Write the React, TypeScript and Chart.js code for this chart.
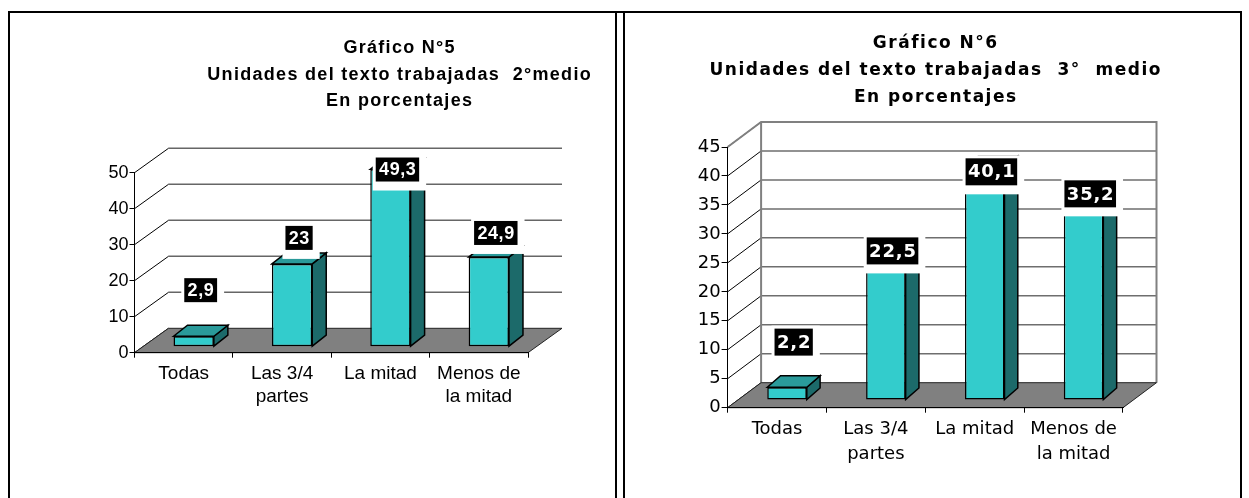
import React, { useEffect, useRef } from 'react';
import { Chart, registerables } from 'chart.js';

Chart.register(...registerables);

// ---------------- data ----------------
const categories: (string | string[])[] = ['Todas', ['Las 3/4', 'partes'], 'La mitad', ['Menos de', 'la mitad']];
const values2medio = [2.9, 23, 49.3, 24.9];
const values3medio = [2.2, 22.5, 40.1, 35.2];
const title2medio = ['Gráfico N°5', 'Unidades del texto trabajadas  2°medio', 'En porcentajes'];
const title3medio = ['Gráfico N°6', 'Unidades del texto trabajadas  3°  medio', 'En porcentajes'];
const yMax2medio = 50;
const yStep2medio = 10;
const yMax3medio = 45;
const yStep3medio = 5;

const fmt = (v: number) => String(v).replace('.', ',');

type Spec = {
  values: number[]; max: number; step: number; title: string[];
  family: string; canvasW: number; canvasH: number;
  pad: { left: number; right: number; top: number; bottom: number };
  yW: number; xH: number;
  depth: [number, number]; shift: [number, number]; barDepth: [number, number];
  wall: boolean; gridColor: string; gridWidth: number;
  yFont: number; yTick: number; yPad: number;
  xFont: number; xLineHeight: number; xTick: number; xPad: number;
  titleX: number; titleBase: number[]; titleSize: number; titleSpacing: number;
  labelSize: number; labelSpacing: number; labelPadX: number; labelH: number; labelK: number; labelC: number;
  barPct: number;
};

const spec1: Spec = {
  values: values2medio, max: yMax2medio, step: yStep2medio, title: title2medio,
  family: "'Liberation Sans', Arial, sans-serif", canvasW: 600, canvasH: 484,
  pad: { left: 72.5, right: 84, top: 158.7, bottom: 65.3 }, yW: 50, xH: 80,
  depth: [34, -24.4], shift: [10, -6], barDepth: [14, -11],
  wall: false, gridColor: '#666666', gridWidth: 1.5,
  yFont: 18, yTick: 5, yPad: 1,
  xFont: 19, xLineHeight: 1.23, xTick: 5, xPad: 4,
  titleX: 387, titleBase: [39.3, 66, 92], titleSize: 18, titleSpacing: 1.3,
  labelSize: 18, labelSpacing: 0.6, labelPadX: 3, labelH: 24, labelK: 49, labelC: 1.0,
  barPct: 0.41,
};

const spec2: Spec = {
  values: values3medio, max: yMax3medio, step: yStep3medio, title: title3medio,
  family: "'DejaVu Sans', Verdana, sans-serif", canvasW: 612, canvasH: 484,
  pad: { left: 50.6, right: 116, top: 133, bottom: 20.3 }, yW: 50, xH: 70,
  depth: [33.5, -25], shift: [10, -7.7], barDepth: [13.3, -11.5],
  wall: true, gridColor: '#6e6e6e', gridWidth: 1.5,
  yFont: 18, yTick: 6, yPad: 1,
  xFont: 18, xLineHeight: 1.39, xTick: 5, xPad: 4,
  titleX: 308, titleBase: [34, 61, 87.7], titleSize: 17, titleSpacing: 1.5,
  labelSize: 18, labelSpacing: 0.8, labelPadX: 2, labelH: 27, labelK: 48, labelC: 1.3,
  barPct: 0.4,
};

function makePlugin(spec: Spec) {
  return {
    id: 'threeD',
    beforeDraw(chart: any) {
      const { ctx, chartArea: a } = chart;
      const y = chart.scales.y;
      const [dx, dy] = spec.depth;
      ctx.save();
      ctx.lineWidth = spec.gridWidth;
      ctx.strokeStyle = spec.gridColor;
      for (let v = spec.step; v <= spec.max + 1e-9; v += spec.step) {
        const py = y.getPixelForValue(v) + dy;
        ctx.beginPath();
        ctx.moveTo(a.left + dx, py);
        ctx.lineTo(a.right + dx, py);
        ctx.stroke();
      }
      ctx.lineWidth = 1;
      ctx.strokeStyle = '#000';
      for (let v = 0; v <= spec.max + 1e-9; v += spec.step) {
        const py = y.getPixelForValue(v);
        ctx.beginPath();
        ctx.moveTo(a.left, py);
        ctx.lineTo(a.left + dx, py + dy);
        ctx.stroke();
      }
      if (spec.wall) {
        ctx.lineWidth = 2;
        ctx.strokeStyle = '#808080';
        ctx.beginPath();
        ctx.moveTo(a.left, a.top);
        ctx.lineTo(a.left + dx, a.top + dy);
        ctx.lineTo(a.right + dx, a.top + dy);
        ctx.lineTo(a.right + dx, a.bottom + dy);
        ctx.moveTo(a.left + dx, a.top + dy);
        ctx.lineTo(a.left + dx, a.bottom + dy);
        ctx.stroke();
      }
      ctx.fillStyle = '#808080';
      ctx.beginPath();
      ctx.moveTo(a.left, a.bottom);
      ctx.lineTo(a.right, a.bottom);
      ctx.lineTo(a.right + dx, a.bottom + dy);
      ctx.lineTo(a.left + dx, a.bottom + dy);
      ctx.closePath();
      ctx.fill();
      ctx.lineWidth = 1;
      ctx.strokeStyle = '#222';
      ctx.stroke();
      ctx.restore();
    },
    beforeDatasetDraw(chart: any) {
      chart.ctx.save();
      chart.ctx.translate(spec.shift[0], spec.shift[1]);
    },
    afterDatasetDraw(chart: any, args: any) {
      const ctx = chart.ctx;
      const [bx, by] = spec.barDepth;
      args.meta.data.forEach((el: any) => {
        const { x, y, base, width } = el.getProps(['x', 'y', 'base', 'width'], true);
        const l = x - width / 2;
        const r = x + width / 2;
        ctx.lineWidth = 1.5;
        ctx.strokeStyle = '#000';
        ctx.lineJoin = 'miter';
        ctx.fillStyle = '#1c6a6a';
        ctx.beginPath();
        ctx.moveTo(r, y);
        ctx.lineTo(r + bx, y + by);
        ctx.lineTo(r + bx, base + by);
        ctx.lineTo(r, base);
        ctx.closePath();
        ctx.fill();
        ctx.stroke();
        ctx.fillStyle = '#2a9a9a';
        ctx.beginPath();
        ctx.moveTo(l, y);
        ctx.lineTo(l + bx, y + by);
        ctx.lineTo(r + bx, y + by);
        ctx.lineTo(r, y);
        ctx.closePath();
        ctx.fill();
        ctx.stroke();
      });
      ctx.restore();
    },
    afterDatasetsDraw(chart: any) {
      const ctx = chart.ctx;
      const meta = chart.getDatasetMeta(0);
      ctx.save();
      ctx.font = `bold ${spec.labelSize}px ${spec.family}`;
      (ctx as any).letterSpacing = `${spec.labelSpacing}px`;
      ctx.textAlign = 'center';
      ctx.textBaseline = 'middle';
      meta.data.forEach((el: any, i: number) => {
        const v = spec.values[i];
        const text = fmt(v);
        const { x, y } = el.getProps(['x', 'y'], true);
        const cx = x + spec.shift[0] + spec.barDepth[0] / 2;
        const cy = y + spec.shift[1] - (spec.labelK - spec.labelC * v);
        const tw = ctx.measureText(text).width;
        const bw = tw + spec.labelPadX * 2;
        const bh = spec.labelH;
        ctx.fillStyle = '#fff';
        ctx.fillRect(cx - bw / 2 - 3, cy - bh / 2 - 3, bw + 10, bh + 12);
        ctx.fillStyle = '#000';
        ctx.fillRect(cx - bw / 2, cy - bh / 2, bw, bh);
        ctx.fillStyle = '#fff';
        ctx.fillText(text, cx + spec.labelSpacing / 2, cy + 1);
      });
      ctx.restore();
    },
    afterDraw(chart: any) {
      const ctx = chart.ctx;
      ctx.save();
      ctx.fillStyle = '#000';
      ctx.textAlign = 'center';
      ctx.textBaseline = 'alphabetic';
      ctx.font = `bold ${spec.titleSize}px ${spec.family}`;
      (ctx as any).letterSpacing = `${spec.titleSpacing}px`;
      spec.title.forEach((line, i) => {
        ctx.fillText(line, spec.titleX + spec.titleSpacing / 2, spec.titleBase[i]);
      });
      ctx.restore();
    },
  };
}

function buildConfig(spec: Spec): any {
  return {
    type: 'bar',
    data: {
      labels: categories,
      datasets: [
        {
          data: spec.values,
          backgroundColor: '#33cccc',
          borderColor: '#000',
          borderWidth: 1.5,
          borderSkipped: false,
          barPercentage: spec.barPct,
          categoryPercentage: 1,
          clip: false,
        },
      ],
    },
    options: {
      responsive: false,
      animation: false,
      devicePixelRatio: 1,
      layout: { padding: spec.pad },
      plugins: { legend: { display: false }, title: { display: false }, tooltip: { enabled: false } },
      scales: {
        x: {
          grid: { offset: true, drawOnChartArea: false, drawTicks: true, tickLength: spec.xTick, color: '#000', lineWidth: 1 },
          border: { display: true, color: '#000', width: 1 },
          ticks: {
            color: '#000',
            autoSkip: false,
            maxRotation: 0,
            padding: spec.xPad,
            font: { family: spec.family, size: spec.xFont, lineHeight: spec.xLineHeight },
          },
          afterFit: (s: any) => { s.height = spec.xH; },
        },
        y: {
          min: 0,
          max: spec.max,
          grid: { drawOnChartArea: false, drawTicks: true, tickLength: spec.yTick, color: '#000', lineWidth: 1 },
          border: { display: true, color: '#000', width: 1 },
          ticks: {
            stepSize: spec.step,
            color: '#000',
            padding: spec.yPad,
            font: { family: spec.family, size: spec.yFont },
          },
          afterFit: (s: any) => { s.width = spec.yW; },
        },
      },
    },
    plugins: [makePlugin(spec)],
  };
}

function ChartCanvas({ spec, left, top }: { spec: Spec; left: number; top: number }) {
  const ref = useRef<HTMLCanvasElement>(null);
  useEffect(() => {
    const chart = new Chart(ref.current as HTMLCanvasElement, buildConfig(spec));
    return () => chart.destroy();
  }, [spec]);
  return (
    <canvas
      ref={ref}
      width={spec.canvasW}
      height={spec.canvasH}
      style={{ position: 'absolute', left, top, width: spec.canvasW, height: spec.canvasH }}
    />
  );
}

const line = (left: number, top: number, width: number, height: number): React.CSSProperties => ({
  position: 'absolute', left, top, width, height, background: '#000',
});

export default function App() {
  return (
    <div style={{ position: 'fixed', left: 0, top: 0, width: 1249, height: 498, background: '#fff', overflow: 'hidden' }}>
      <div style={line(8, 11, 1234, 2)} />
      <div style={line(8, 11, 2, 487)} />
      <div style={line(615, 11, 2, 487)} />
      <div style={line(623, 11, 2, 487)} />
      <div style={line(1240, 11, 2, 487)} />
      <ChartCanvas spec={spec1} left={12} top={14} />
      <ChartCanvas spec={spec2} left={627} top={14} />
    </div>
  );
}
